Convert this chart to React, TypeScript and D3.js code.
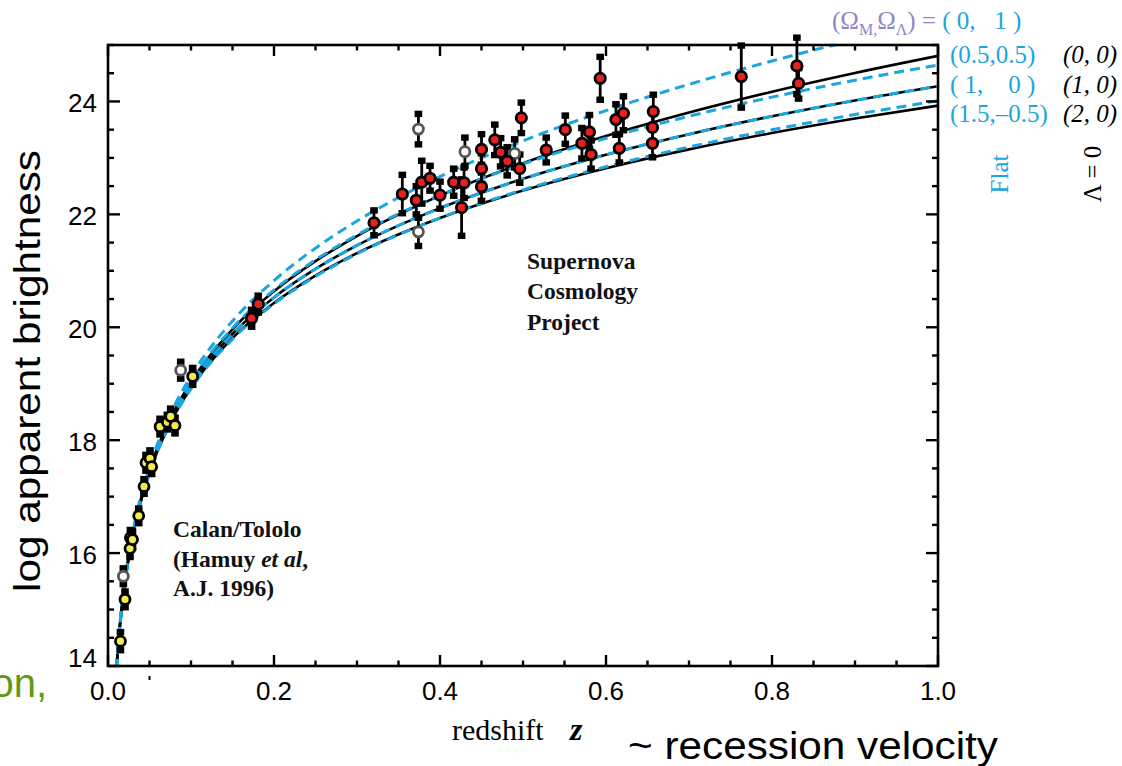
import React from "react";
import * as d3 from "d3";

// ---- data ----
const Z_GRID = [0.01, 0.015, 0.02, 0.03, 0.05, 0.075, 0.1, 0.15, 0.2, 0.25, 0.3, 0.4, 0.5, 0.6, 0.7, 0.8, 0.9, 1.0];
// flat models (blue dashed)
const FLAT_0_1 = [13.948, 14.839, 15.474, 16.376, 17.527, 18.459, 19.133, 20.111, 20.827, 21.401, 21.882, 22.667, 23.302, 23.838, 24.303, 24.717, 25.091, 25.431];
const FLAT_05_05 = [13.94, 14.827, 15.458, 16.352, 17.486, 18.398, 19.051, 19.987, 20.662, 21.194, 21.634, 22.338, 22.892, 23.349, 23.738, 24.077, 24.377, 24.646];
const FLAT_1_0 = [13.931, 14.815, 15.442, 16.328, 17.448, 18.342, 18.977, 19.882, 20.528, 21.034, 21.45, 22.111, 22.63, 23.057, 23.42, 23.737, 24.018, 24.27];
const FLAT_15_m05 = [13.923, 14.803, 15.426, 16.305, 17.41, 18.288, 18.91, 19.789, 20.414, 20.901, 21.301, 21.936, 22.434, 22.844, 23.193, 23.498, 23.768, 24.012];
// Lambda = 0 models (black solid)
const OPEN_0_0 = [13.937, 14.823, 15.453, 16.344, 17.475, 18.382, 19.032, 19.964, 20.638, 21.172, 21.616, 22.332, 22.906, 23.387, 23.803, 24.172, 24.504, 24.807];
const L0_1_0 = FLAT_1_0;
const CLOSED_2_0 = [13.926, 14.807, 15.431, 16.312, 17.421, 18.302, 18.926, 19.807, 20.431, 20.916, 21.312, 21.936, 22.421, 22.817, 23.151, 23.441, 23.697, 23.926];

// Calan/Tololo supernovae (yellow)
const CT_Z = [0.015, 0.0205, 0.0265, 0.027, 0.0295, 0.037, 0.0434, 0.0458, 0.0506, 0.0526, 0.0627, 0.0715, 0.0755, 0.0807, 0.102];
const CT_M = [14.44, 15.18, 16.08, 16.27, 16.24, 16.66, 17.18, 17.6, 17.68, 17.53, 18.24, 18.32, 18.42, 18.26, 19.13];
const CT_ERR = [0.16, 0.14, 0.15, 0.14, 0.14, 0.13, 0.13, 0.14, 0.14, 0.13, 0.14, 0.13, 0.14, 0.14, 0.15];

// Supernova Cosmology Project (red)
const SCP_Z = [0.173, 0.181, 0.3205, 0.3546, 0.3715, 0.378, 0.388, 0.4, 0.4165, 0.426, 0.429, 0.45, 0.45, 0.45, 0.466, 0.473, 0.481, 0.496, 0.498, 0.528, 0.551, 0.571, 0.58, 0.582, 0.593, 0.612, 0.621, 0.616, 0.657, 0.656, 0.656, 0.763, 0.83, 0.832];
const SCP_M = [20.16, 20.41, 21.85, 22.36, 22.25, 22.57, 22.64, 22.34, 22.57, 22.12, 22.56, 23.15, 22.81, 22.49, 23.32, 23.1, 22.94, 22.81, 23.71, 23.14, 23.5, 23.26, 23.46, 23.06, 24.41, 23.68, 23.79, 23.17, 23.82, 23.54, 23.26, 24.44, 24.63, 24.32];
const SCP_ERR = [0.15, 0.15, 0.22, 0.34, 0.25, 0.38, 0.22, 0.24, 0.24, 0.5, 0.27, 0.27, 0.27, 0.25, 0.27, 0.25, 0.25, 0.25, 0.27, 0.22, 0.25, 0.27, 0.3, 0.25, 0.38, 0.27, 0.3, 0.25, 0.3, 0.28, 0.25, 0.55, 0.5, 0.27];

// excluded / outlier points (open gray)
const OUT_Z = [0.0185, 0.0876, 0.374, 0.374, 0.43, 0.49];
const OUT_M = [15.59, 19.24, 23.51, 21.69, 23.11, 23.08];
const OUT_ERR = [0.14, 0.15, 0.27, 0.25, 0.25, 0.25];

const X_TICKS = [0, 0.2, 0.4, 0.6, 0.8, 1.0];
const X_TICK_LABELS = ["0.0", "0.2", "0.4", "0.6", "0.8", "1.0"];
const Y_TICKS = [14, 16, 18, 20, 22, 24];
const Y_TICK_LABELS = ["14", "16", "18", "20", "22", "24"];

const BLUE = "#1ba6e0";
const PURPLE = "#8f86c6";
const SERIF = "'Liberation Serif', 'DejaVu Serif', serif";
const SANS = "'Liberation Sans', Arial, sans-serif";
const NB = "\u00A0";

const W = 1122;
const H = 766;
const L = 108, R = 938, T = 45, B = 666;

export default function App() {
  const x = d3.scaleLinear().domain([0, 1]).range([L, R]);
  const y = d3.scaleLinear().domain([14, 25]).range([B, T]);

  const line = (vals: number[]) =>
    d3
      .line<number>()
      .x((_, i) => x(Z_GRID[i]))
      .y((v) => y(v))
      .curve(d3.curveMonotoneX)(vals) || "";

  const minorX = d3.range(0, 1.0001, 0.05);
  const minorY = d3.range(14, 25.0001, 0.5);

  const errBar = (z: number, m: number, e: number, key: string) => {
    const cx = x(z);
    const y1 = y(m + e);
    const y2 = y(m - e);
    return (
      <g key={key}>
        <line x1={cx} x2={cx} y1={y1} y2={y2} stroke="#000" strokeWidth={2.8} />
        <rect x={cx - 3.8} y={y1 - 3.2} width={7.6} height={6.4} fill="#000" />
        <rect x={cx - 3.8} y={y2 - 3.2} width={7.6} height={6.4} fill="#000" />
      </g>
    );
  };

  const blackCurves = [OPEN_0_0, L0_1_0, CLOSED_2_0];
  const blueCurves = [FLAT_0_1, FLAT_05_05, FLAT_1_0, FLAT_15_m05];

  return (
    <svg
      width={W}
      height={H}
      viewBox={`0 0 ${W} ${H}`}
      style={{ position: "absolute", left: 0, top: 0, background: "#fff" }}
    >
      <defs>
        <clipPath id="plot">
          <rect x={L} y={T} width={R - L} height={B - T} />
        </clipPath>
      </defs>

      {/* curves */}
      <g clipPath="url(#plot)" fill="none">
        {blackCurves.map((c, i) => (
          <path key={"b" + i} d={line(c)} stroke="#000" strokeWidth={2.6} />
        ))}
        {blueCurves.map((c, i) => (
          <path key={"c" + i} d={line(c)} stroke={BLUE} strokeWidth={3} strokeDasharray="10,6" />
        ))}
      </g>

      {/* error bars */}
      {CT_Z.map((z, i) => errBar(z, CT_M[i], CT_ERR[i], "ce" + i))}
      {OUT_Z.map((z, i) => errBar(z, OUT_M[i], OUT_ERR[i], "oe" + i))}
      {SCP_Z.map((z, i) => errBar(z, SCP_M[i], SCP_ERR[i], "se" + i))}

      {/* markers */}
      {CT_Z.map((z, i) => (
        <circle key={"cm" + i} cx={x(z)} cy={y(CT_M[i])} r={5} fill="#f6ea4a" stroke="#000" strokeWidth={2.8} />
      ))}
      {OUT_Z.map((z, i) => (
        <circle key={"om" + i} cx={x(z)} cy={y(OUT_M[i])} r={5} fill="#fff" stroke="#555" strokeWidth={2.8} />
      ))}
      {SCP_Z.map((z, i) => (
        <circle key={"sm" + i} cx={x(z)} cy={y(SCP_M[i])} r={5.2} fill="#e8201f" stroke="#000" strokeWidth={2.8} />
      ))}

      {/* frame */}
      <rect x={L} y={T} width={R - L} height={B - T} fill="none" stroke="#000" strokeWidth={2.6} />

      {/* x ticks */}
      {minorX.map((v, i) => {
        const major = Math.abs(v / 0.2 - Math.round(v / 0.2)) < 1e-6;
        const len = major ? 11 : 5.5;
        return (
          <g key={"xt" + i}>
            <line x1={x(v)} x2={x(v)} y1={B} y2={B - len} stroke="#000" strokeWidth={2.4} />
            <line x1={x(v)} x2={x(v)} y1={T} y2={T + len} stroke="#000" strokeWidth={2.4} />
          </g>
        );
      })}
      {/* y ticks */}
      {minorY.map((v, i) => {
        const major = Math.abs(v / 2 - Math.round(v / 2)) < 1e-6;
        const len = major ? 12 : 6;
        return (
          <g key={"yt" + i}>
            <line x1={L} x2={L + len} y1={y(v)} y2={y(v)} stroke="#000" strokeWidth={2.4} />
            <line x1={R} x2={R - len} y1={y(v)} y2={y(v)} stroke="#000" strokeWidth={2.4} />
          </g>
        );
      })}
      <line x1={x(0.05)} x2={x(0.05)} y1={676} y2={680} stroke="#000" strokeWidth={2} />

      {/* tick labels */}
      {X_TICKS.map((v, i) => (
        <text key={"xl" + i} x={x(v)} y={700} textAnchor="middle" fontFamily={SANS} fontSize={26} fill="#000">
          {X_TICK_LABELS[i]}
        </text>
      ))}
      {Y_TICKS.map((v, i) => (
        <text key={"yl" + i} x={97} y={Math.min(y(v) + 2, 658) + 9} textAnchor="end" fontFamily={SANS} fontSize={26} fill="#000">
          {Y_TICK_LABELS[i]}
        </text>
      ))}

      {/* axis titles */}
      <text transform="translate(40,371) rotate(-90)" textAnchor="middle" fontFamily={SANS} fontSize={36} textLength={442} lengthAdjust="spacingAndGlyphs" fill="#000">
        log apparent brightness
      </text>
      <text x={452} y={740} fontFamily={SERIF} fontSize={30} fill="#000">redshift</text>
      <text x={570} y={740} fontFamily={SERIF} fontSize={32} fontWeight="bold" fontStyle="italic" fill="#000">z</text>
      <text x={628} y={759} fontFamily={SANS} fontSize={38} textLength={370} lengthAdjust="spacingAndGlyphs" fill="#000">~ recession velocity</text>
      <text x={47} y={697} textAnchor="end" fontFamily={SANS} fontSize={40} fill="#5c9a17">on,</text>

      {/* annotations */}
      <g fontFamily={SERIF} fontWeight="bold" fontSize={23.5} fill="#111">
        <text x={527} y={269}>Supernova</text>
        <text x={527} y={299}>Cosmology</text>
        <text x={527} y={330}>Project</text>
        <text x={173} y={537}>Calan/Tololo</text>
        <text x={173} y={567}>
          (Hamuy <tspan fontStyle="italic">et al</tspan>,
        </text>
        <text x={173} y={596}>A.J. 1996)</text>
      </g>

      {/* legend */}
      <g fontFamily={SERIF} fontSize={25}>
        <text x={832} y={29}>
          <tspan fill={PURPLE}>(Ω</tspan>
          <tspan fill={PURPLE} fontSize={16} dy={6}>M,</tspan>
          <tspan fill={PURPLE} dy={-6}>Ω</tspan>
          <tspan fill={PURPLE} fontSize={16} dy={6}>Λ</tspan>
          <tspan fill={PURPLE} dy={-6}>{`)${NB}=${NB}`}</tspan>
          <tspan fill={BLUE}>{`(${NB}0,${NB}${NB}${NB}1${NB})`}</tspan>
        </text>
        <text x={950} y={63} fill={BLUE}>(0.5,0.5)</text>
        <text x={950} y={93} fill={BLUE}>{`(${NB}1,${NB}${NB}${NB}${NB}0${NB})`}</text>
        <text x={950} y={122} fill={BLUE}>(1.5,–0.5)</text>
        <text x={1063} y={63} fontStyle="italic" fill="#000">(0, 0)</text>
        <text x={1063} y={93} fontStyle="italic" fill="#000">(1, 0)</text>
        <text x={1063} y={122} fontStyle="italic" fill="#000">(2, 0)</text>
        <text transform="translate(1008,174) rotate(-90)" textAnchor="middle" fill={BLUE}>Flat</text>
        <text transform="translate(1101,174) rotate(-90)" textAnchor="middle" fill="#000">Λ = 0</text>
      </g>
    </svg>
  );
}
